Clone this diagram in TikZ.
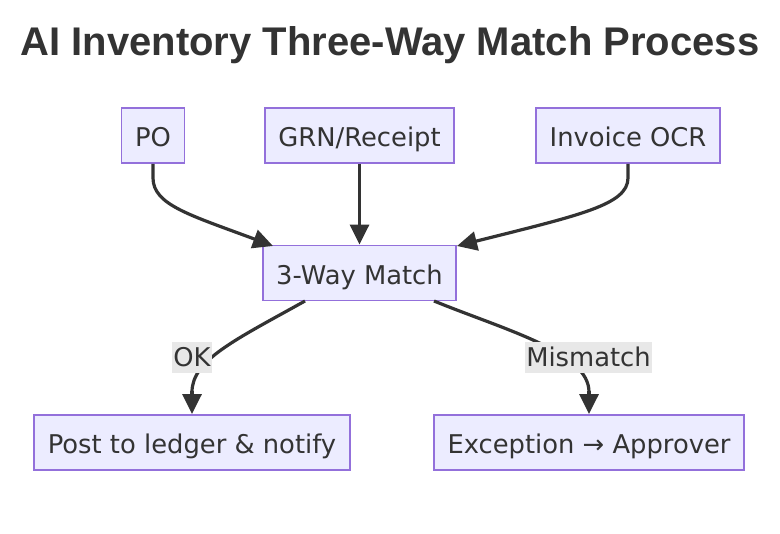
\documentclass[tikz,border=0pt]{standalone}
\usepackage{fontspec}
\setmainfont{DejaVu Sans}
\newfontfamily\titlefont{Liberation Sans}
\usetikzlibrary{arrows.meta}
\definecolor{txt}{HTML}{333333}
\definecolor{boxfill}{HTML}{ECECFF}
\definecolor{boxdraw}{HTML}{9370DB}
\definecolor{lblbg}{HTML}{E8E8E8}
\tikzset{
  procbox/.style={draw=boxdraw, fill=boxfill, line width=1.8pt, text=txt,
    font=\fontsize{25.8}{30}\selectfont, inner xsep=13.5pt, inner ysep=0pt,
    minimum height=55pt, text height=25pt, text depth=2pt},
  edgelbl/.style={fill=lblbg, text=txt, font=\fontsize{25.8}{30}\selectfont,
    inner xsep=1pt, inner ysep=0pt, minimum height=31pt, text height=22pt, text depth=3pt},
  flow/.style={draw=txt, line width=3.2pt, -{Triangle[length=20pt,width=19pt]}},
  plain/.style={draw=txt, line width=3.2pt}
}
\begin{document}
\begin{tikzpicture}[x=1pt,y=-1pt]
\useasboundingbox (0,0) rectangle (780,534);
\node[text=txt, font=\titlefont\bfseries\fontsize{40}{48}\selectfont, anchor=base] (title) at (390,56) {AI Inventory Three-Way Match Process};

\node[procbox] (po) at (153,135.5) {PO};
\node[procbox] (grn) at (359.5,135.5) {GRN/Receipt};
\node[procbox] (inv) at (628,135.5) {Invoice OCR};
\node[procbox] (match) at (359.5,273) {3-Way Match};
\node[procbox] (post) at (192,442.5) {Post to ledger \& notify};
\node[procbox] (exc) at (589,442.5) {Exception → Approver};

\coordinate (poE) at (273,246);
\coordinate (invE) at (457,246);
\coordinate (mL) at (305,301);
\coordinate (mR) at (434,301);

\draw[flow] (po.south) -- ++(0,14) .. controls +(0,27) and (190,215) .. (poE);
\draw[flow] (grn.south) -- (match.north);
\draw[flow] (inv.south) -- ++(0,14) .. controls +(0,27) and (580,215) .. (invE);

\draw[plain] (mL) .. controls (235,340) and (192,360) .. (192,392);
\draw[flow] (192,391) -- (post.north -| 192,0);
\draw[plain] (mR) .. controls (505,330) and (589,352) .. (589,392);
\draw[flow] (589,391) -- (exc.north);

\node[edgelbl] (ok) at (192,357.5) {OK};
\node[edgelbl] (mis) at (588.5,357.5) {Mismatch};
\end{tikzpicture}
\end{document}
